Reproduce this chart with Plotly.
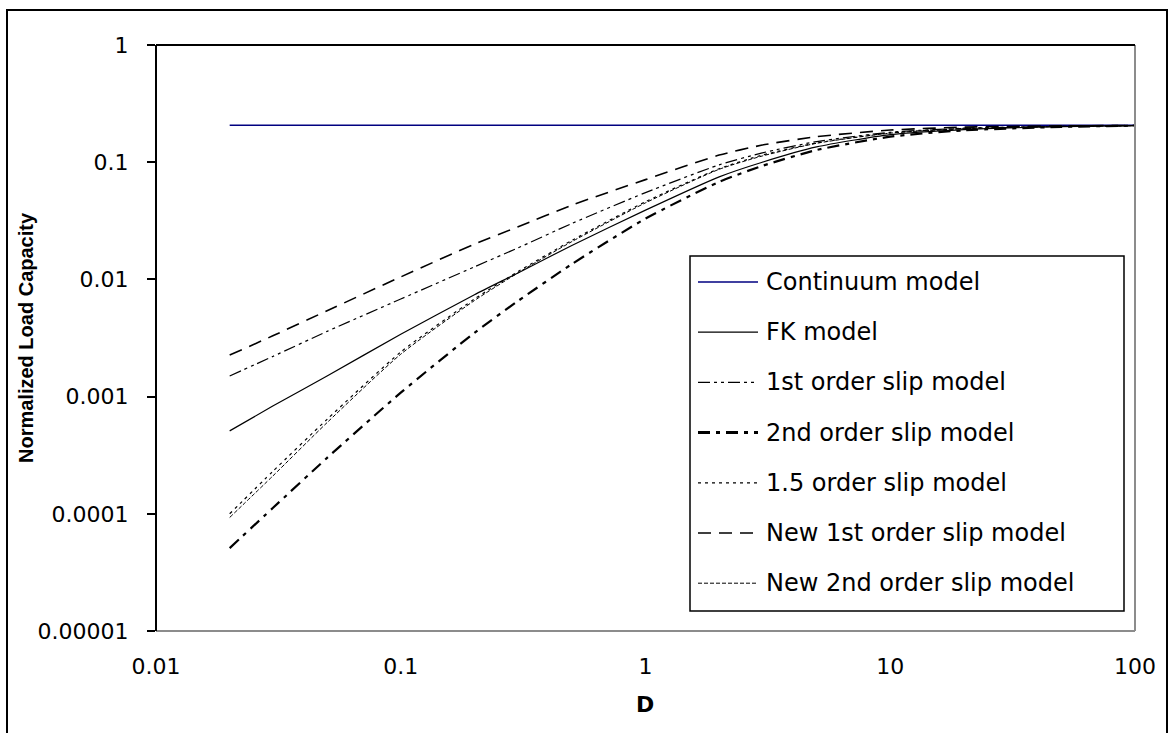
import plotly.graph_objects as go

# ---------------- data ----------------
D = [0.02, 0.03, 0.05, 0.1, 0.2, 0.3, 0.5, 1, 2, 3, 5, 10, 20, 50, 100]

continuum = [0.207, 0.207, 0.207, 0.207, 0.207, 0.207, 0.207, 0.207,
             0.207, 0.207, 0.207, 0.207, 0.207, 0.207, 0.207]
fk_model = [0.00051, 0.00083, 0.0015, 0.0034, 0.0074, 0.0113, 0.0195, 0.039,
            0.075, 0.1, 0.135, 0.172, 0.19, 0.201, 0.205]
first_order = [0.0015, 0.0022, 0.0036, 0.0068, 0.0128, 0.0185, 0.03, 0.055,
               0.095, 0.12, 0.15, 0.18, 0.195, 0.202, 0.205]
second_order = [0.000051, 0.000112, 0.0003, 0.00108, 0.0035, 0.0065, 0.0135,
                0.033, 0.068, 0.093, 0.127, 0.165, 0.187, 0.2, 0.205]
one_half_order = [0.0001, 0.00023, 0.00064, 0.0024, 0.0068, 0.0116, 0.0215,
                  0.046, 0.088, 0.115, 0.146, 0.178, 0.194, 0.202, 0.205]
new_first_order = [0.00226, 0.0033, 0.0054, 0.0105, 0.02, 0.028, 0.043, 0.071,
                   0.115, 0.14, 0.165, 0.188, 0.199, 0.204, 0.206]
new_second_order = [0.000093, 0.00021, 0.0006, 0.0023, 0.0066, 0.0113, 0.021,
                    0.045, 0.087, 0.113, 0.145, 0.177, 0.193, 0.202, 0.205]

names = ["Continuum model", "FK model", "1st order slip model",
         "2nd order slip model", "1.5 order slip model",
         "New 1st order slip model", "New 2nd order slip model"]

x_ticks = [0.01, 0.1, 1, 10, 100]
x_tick_labels = ["0.01", "0.1", "1", "10", "100"]
y_ticks = [0.00001, 0.0001, 0.001, 0.01, 0.1, 1]
y_tick_labels = ["0.00001", "0.0001", "0.001", "0.01", "0.1", "1"]

# ---------------- styling ----------------
series = [
    (names[0], continuum, "#000080", 1.5, "solid"),
    (names[1], fk_model, "black", 1.2, "solid"),
    (names[2], first_order, "black", 1.2, "12px,4px,3px,4px,3px,4px"),
    (names[3], second_order, "black", 2.2, "12px,6px,4px,6px"),
    (names[4], one_half_order, "black", 1.2, "3px,4px"),
    (names[5], new_first_order, "black", 1.6, "13px,8px"),
    (names[6], new_second_order, "black", 1.0, "4px,2px"),
]

W, H = 1171, 733
L, R, T, B = 156, 1135, 45, 631
PW, PH = R - L, B - T


def pxx(x):
    return (x - L) / PW


def pxy(y):
    return (B - y) / PH


TXT = "DejaVu Sans"
fig = go.Figure()
for name, vals, color, width, dash in series:
    fig.add_trace(go.Scatter(
        x=D, y=vals, mode="lines", name=name, showlegend=False,
        line=dict(color=color, width=width, dash=dash, shape="spline", smoothing=0.6),
    ))

shapes = []
# outer chart border
shapes.append(dict(type="rect", xref="paper", yref="paper",
                   x0=pxx(7), x1=pxx(1167), y0=pxy(745), y1=pxy(10),
                   line=dict(color="black", width=2), fillcolor="rgba(0,0,0,0)"))
# plot-area frame
shapes.append(dict(type="line", xref="paper", yref="paper", x0=0, x1=1, y0=0, y1=0,
                   line=dict(color="#8c8c8c", width=2)))
shapes.append(dict(type="line", xref="paper", yref="paper", x0=1, x1=1, y0=0, y1=1,
                   line=dict(color="#8c8c8c", width=2)))
shapes.append(dict(type="line", xref="paper", yref="paper", x0=0, x1=1, y0=1, y1=1,
                   line=dict(color="black", width=2)))
shapes.append(dict(type="line", xref="paper", yref="paper", x0=0, x1=0, y0=0, y1=1,
                   line=dict(color="black", width=2)))

# legend box
LG_L, LG_R, LG_T, LG_B = 690, 1124, 256, 611
shapes.append(dict(type="rect", xref="paper", yref="paper",
                   x0=pxx(LG_L), x1=pxx(LG_R), y0=pxy(LG_B), y1=pxy(LG_T),
                   line=dict(color="black", width=1.5), fillcolor="white", layer="above"))
annotations = []
row0, step = 282, 50.2
for i, (name, vals, color, width, dash) in enumerate(series):
    yy = row0 + i * step
    lw = 3 if i == 3 else width
    shapes.append(dict(type="line", xref="paper", yref="paper",
                       x0=pxx(698), x1=pxx(758), y0=pxy(yy), y1=pxy(yy),
                       line=dict(color=color, width=lw, dash=dash), layer="above"))
    annotations.append(dict(xref="paper", yref="paper", x=pxx(764), y=pxy(yy),
                            text=name, showarrow=False, xanchor="left", yanchor="middle",
                            font=dict(family=TXT, size=24, color="black")))

# axis titles
annotations.append(dict(xref="paper", yref="paper", x=pxx(645), y=pxy(704), text="<b>D</b>",
                        showarrow=False, xanchor="center", yanchor="middle",
                        font=dict(family=TXT, size=22, color="black")))
annotations.append(dict(xref="paper", yref="paper", x=pxx(26), y=pxy(338),
                        text="<b>Normalized Load Capacity</b>", textangle=-90,
                        showarrow=False, xanchor="center", yanchor="middle",
                        font=dict(family="Liberation Sans, Arial", size=20, color="black")))

fig.update_layout(
    width=W, height=H,
    margin=dict(l=L, r=W - R, t=T, b=H - B, pad=0),
    paper_bgcolor="white", plot_bgcolor="white",
    showlegend=False, shapes=shapes, annotations=annotations,
)
fig.update_xaxes(type="log", range=[-2, 2], tickvals=x_ticks, ticktext=x_tick_labels,
                 showgrid=False, zeroline=False, showline=False, ticks="",
                 ticklabelstandoff=20, tickfont=dict(family=TXT, size=22, color="black"))
fig.update_yaxes(type="log", range=[-5, 0], tickvals=y_ticks, ticktext=y_tick_labels,
                 showgrid=False, zeroline=False, showline=False, ticks="outside",
                 ticklen=8, tickwidth=2, tickcolor="black", ticklabelstandoff=14,
                 tickfont=dict(family=TXT, size=22, color="black"))

fig.write_html("out.html")
